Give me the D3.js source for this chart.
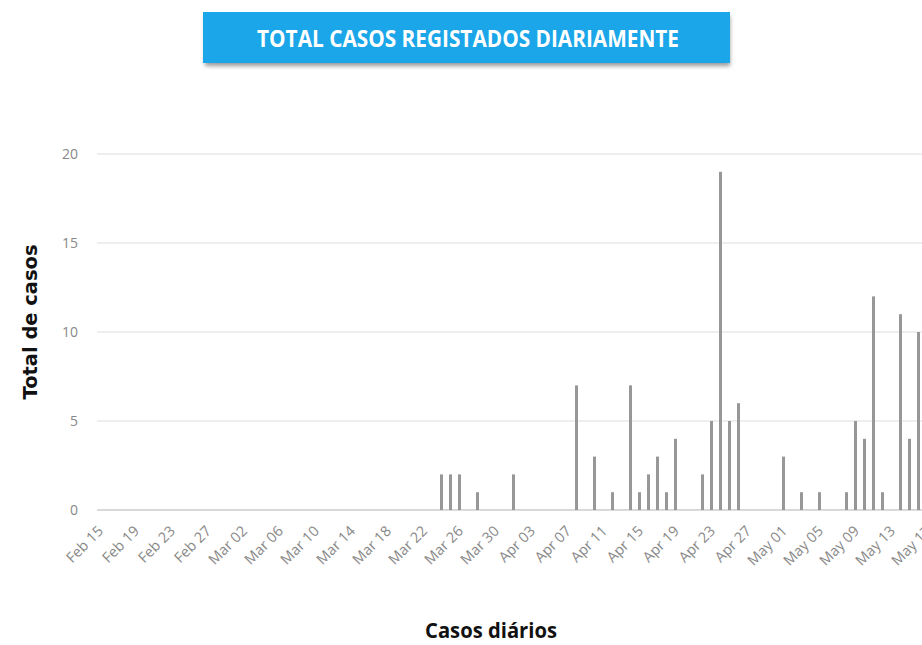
<!DOCTYPE html>
<html>
<head>
<meta charset="utf-8">
<script src="https://cdn.jsdelivr.net/npm/d3@7"></script>
<style>
  body { margin: 0; background: #fff; }
  svg { display: block; font-family: "Open Sans", sans-serif; }
</style>
</head>
<body>
<div id="chart"></div>
<script>
const caseDates = ["2020-03-24", "2020-03-25", "2020-03-26", "2020-03-28", "2020-04-01",
    "2020-04-08", "2020-04-10", "2020-04-12", "2020-04-14", "2020-04-15", "2020-04-16",
    "2020-04-17", "2020-04-18", "2020-04-19", "2020-04-22", "2020-04-23", "2020-04-24",
    "2020-04-25", "2020-04-26", "2020-05-01", "2020-05-03", "2020-05-05", "2020-05-08",
    "2020-05-09", "2020-05-10", "2020-05-11", "2020-05-12", "2020-05-14", "2020-05-15",
    "2020-05-16"];
const caseValues = [2, 2, 2, 1, 2, 7, 3, 1, 7, 1, 2, 3, 1, 4, 2, 5, 19, 5, 6, 3, 1, 1, 1, 5, 4, 12, 1, 11, 4, 10];
const xTickLabels = ["Feb 15", "Feb 19", "Feb 23", "Feb 27", "Mar 02", "Mar 06", "Mar 10",
    "Mar 14", "Mar 18", "Mar 22", "Mar 26", "Mar 30", "Apr 03", "Apr 07", "Apr 11", "Apr 15",
    "Apr 19", "Apr 23", "Apr 27", "May 01", "May 05", "May 09", "May 13", "May 17"];
const yTicks = [0, 5, 10, 15, 20];

const width = 922, height = 645;
const parseDay = d3.utcParse("%Y-%m-%d");
const parseTick = s => d3.utcParse("%b %d %Y")(s + " 2020");

const data = caseDates.map((d, i) => ({ date: parseDay(d), value: caseValues[i] }));

const svg = d3.select("#chart").append("svg")
    .attr("width", width)
    .attr("height", height);

// title box with a soft shadow
const defs = svg.append("defs");
const blur = defs.append("filter").attr("id", "shadow")
    .attr("x", "-5%").attr("y", "-20%").attr("width", "110%").attr("height", "150%");
blur.append("feGaussianBlur").attr("stdDeviation", 2);

svg.append("rect")
    .attr("x", 205).attr("y", 16)
    .attr("width", 525).attr("height", 50)
    .attr("fill", "#999")
    .attr("filter", "url(#shadow)");
svg.append("rect")
    .attr("x", 203).attr("y", 12)
    .attr("width", 527).attr("height", 51)
    .attr("fill", "#1aa6e8");
svg.append("text")
    .attr("x", 257).attr("y", 47)
    .attr("textLength", 422)
    .attr("lengthAdjust", "spacingAndGlyphs")
    .attr("fill", "#fff")
    .attr("font-size", 24)
    .attr("font-weight", 700)
    .text("TOTAL CASOS REGISTADOS DIARIAMENTE");

const x = d3.scaleUtc()
    .domain([parseTick("Feb 15"), parseTick("May 17")])
    .range([99.5, 927.5]);

const y = d3.scaleLinear()
    .domain([0, 20])
    .range([510, 154]);

// grid
svg.append("g")
    .selectAll("line")
    .data(yTicks)
    .join("line")
    .attr("x1", 97).attr("x2", width)
    .attr("y1", d => y(d)).attr("y2", d => y(d))
    .attr("stroke", d => d === 0 ? "#cccccc" : "#e8e8e8")
    .attr("stroke-width", 1.5);

// y labels
svg.append("g")
    .selectAll("text")
    .data(yTicks)
    .join("text")
    .attr("x", 78)
    .attr("y", d => y(d) + 5)
    .attr("text-anchor", "end")
    .attr("fill", "#888")
    .attr("font-size", 14)
    .text(d => d);

// x labels
svg.append("g")
    .selectAll("text")
    .data(xTickLabels)
    .join("text")
    .attr("text-anchor", "end")
    .attr("transform", d => `translate(${x(parseTick(d)) + 4.5},532) rotate(-45)`)
    .attr("fill", "#888")
    .attr("font-size", 14.5)
    .text(d => d);

// bars
svg.append("g")
    .selectAll("rect")
    .data(data)
    .join("rect")
    .attr("x", d => x(d.date) - 1.5)
    .attr("width", 3)
    .attr("y", d => y(d.value))
    .attr("height", d => y(0) - y(d.value))
    .attr("fill", "#979797");

// axis titles
svg.append("text")
    .attr("transform", "translate(37,322) rotate(-90)")
    .attr("text-anchor", "middle")
    .attr("textLength", 155)
    .attr("lengthAdjust", "spacingAndGlyphs")
    .attr("font-family", "'DejaVu Sans', sans-serif")
    .attr("font-weight", 700)
    .attr("font-size", 19)
    .attr("fill", "#111")
    .text("Total de casos");

svg.append("text")
    .attr("x", 491).attr("y", 638)
    .attr("text-anchor", "middle")
    .attr("textLength", 132)
    .attr("lengthAdjust", "spacingAndGlyphs")
    .attr("font-weight", 700)
    .attr("font-size", 21)
    .attr("fill", "#111")
    .text("Casos diários");
</script>
</body>
</html>
